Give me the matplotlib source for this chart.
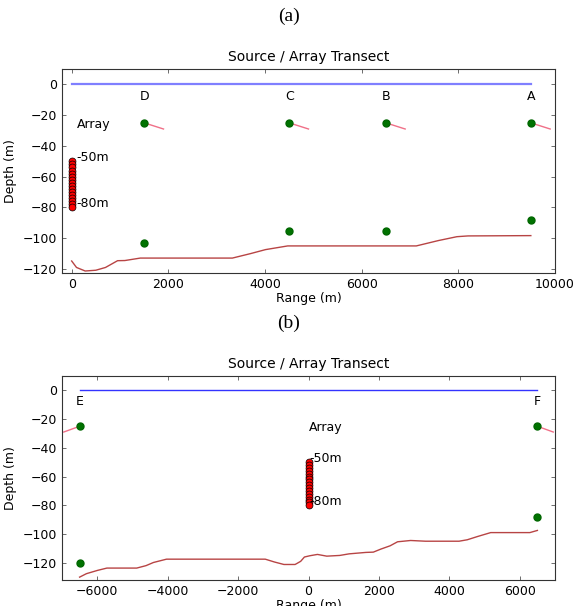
import matplotlib
matplotlib.use("Agg")
import matplotlib.pyplot as plt
import numpy as np

# ---- panel (a) data
a_src_names = ["D", "C", "B", "A"]
a_src_x = [1500, 4500, 6500, 9500]
a_src_top = [-25, -25, -25, -25]
a_src_bot = [-103, -95, -95, -88]
a_tow_dx = [400, 400, 400, 400]
a_tow_dz = [-4, -4, -4, -4]
a_bathy_x = [0, 100, 280, 500, 700, 950, 1100, 1420, 2000, 3325, 3700, 4010,
             4470, 5000, 7130, 7590, 7970, 8200, 9500]
a_bathy_z = [-114.8, -119, -121.3, -120.8, -119, -114.6, -114.5, -112.9, -112.9,
             -112.9, -110, -107.4, -105, -105, -105, -101.5, -99, -98.5, -98.3]
a_array_x = 0
a_surface_x = [0, 9500]

# ---- panel (b) data
b_src_names = ["E", "F"]
b_src_x = [-6500, 6500]
b_src_top = [-25, -25]
b_src_bot = [-120, -88]
b_tow_dx = [-450, 450]
b_tow_dz = [-4, -4]
b_bathy_x = [-6500, -6307, -5990, -5725, -4878, -4614, -4402, -4032, -1228, -963,
             -698, -381, -222, -116, 42, 254, 519, 889, 1153, 1630, 1841, 2053,
             2317, 2529, 2900, 3323, 4275, 4508, 4804, 5175, 6286, 6500]
b_bathy_z = [-130, -127.6, -125.3, -123.7, -123.7, -122, -119.8, -117.5, -117.5,
             -119.5, -121.2, -121.2, -119, -116, -115.1, -114.2, -115.4, -114.9,
             -113.8, -112.8, -112.6, -110.5, -108.2, -105.4, -104.5, -105, -105,
             -104, -101.7, -99, -99, -97.5]
b_array_x = 0
b_surface_x = [-6500, 6500]

array_depths = np.arange(-50, -81, -2)


def transect(ax, names, sx, stop, sbot, tdx, tdz, bx, bz, arr_x, surf_x,
             surf_color, surf_lw, lab_off, xlim, ylim):
    ax.plot(surf_x, [0, 0], color=surf_color, lw=surf_lw)
    ax.plot(bx, bz, color='#b03030', lw=1, alpha=0.9)
    for n, x, t, b, dx, dz in zip(names, sx, stop, sbot, tdx, tdz):
        ax.plot([x, x + dx], [t, t + dz], color='#f07088', lw=1)
        ax.plot([x, x], [t, b], 'o', color=(0, 0.45, 0), ms=5, mec=(0, 0.4, 0))
        ax.text(x, -8, n, ha='center', va='center', fontsize=9)
    ax.plot(np.full(len(array_depths), arr_x), array_depths, 'o', color='red',
            mec='black', mew=0.5, ms=5)
    ax.text(arr_x + lab_off, -26, "Array", va='center', fontsize=9)
    ax.text(arr_x + lab_off, -47.5, "-50m", va='center', fontsize=9)
    ax.text(arr_x + lab_off, -77.5, "-80m", va='center', fontsize=9)
    ax.set_xlim(*xlim)
    ax.set_ylim(*ylim)
    ax.set_yticks([0, -20, -40, -60, -80, -100, -120])
    ax.set_title("Source / Array Transect", fontsize=10)
    ax.set_xlabel("Range (m)", fontsize=9, labelpad=1)
    ax.set_ylabel("Depth (m)", fontsize=9)
    ax.tick_params(direction='in', top=True, right=True, labelsize=9, length=3,
                   width=0.6, color='#555555')
    for s in ax.spines.values():
        s.set_linewidth(0.8)
        s.set_color('#333333')


fig = plt.figure(figsize=(5.78, 6.06), dpi=100)
ax1 = fig.add_axes([62 / 578, 1 - 273 / 606, 493 / 578, 204 / 606])
ax2 = fig.add_axes([62 / 578, 1 - 580 / 606, 493 / 578, 204 / 606])

transect(ax1, a_src_names, a_src_x, a_src_top, a_src_bot, a_tow_dx, a_tow_dz,
         a_bathy_x, a_bathy_z, a_array_x, a_surface_x, '#7f7fff', 1.6, 100,
         (-200, 10000), (-122.6, 10))
transect(ax2, b_src_names, b_src_x, b_src_top, b_src_bot, b_tow_dx, b_tow_dz,
         b_bathy_x, b_bathy_z, b_array_x, b_surface_x, '#3333ff', 1.0, 20,
         (-7000, 7000), (-132, 10))

fig.text(0.5, 1 - 16 / 606, "(a)", ha='center', va='center', fontsize=14,
         family='Liberation Serif')
fig.text(0.5, 1 - 323 / 606, "(b)", ha='center', va='center', fontsize=14,
         family='Liberation Serif')

fig.savefig("out.png", dpi=100)
